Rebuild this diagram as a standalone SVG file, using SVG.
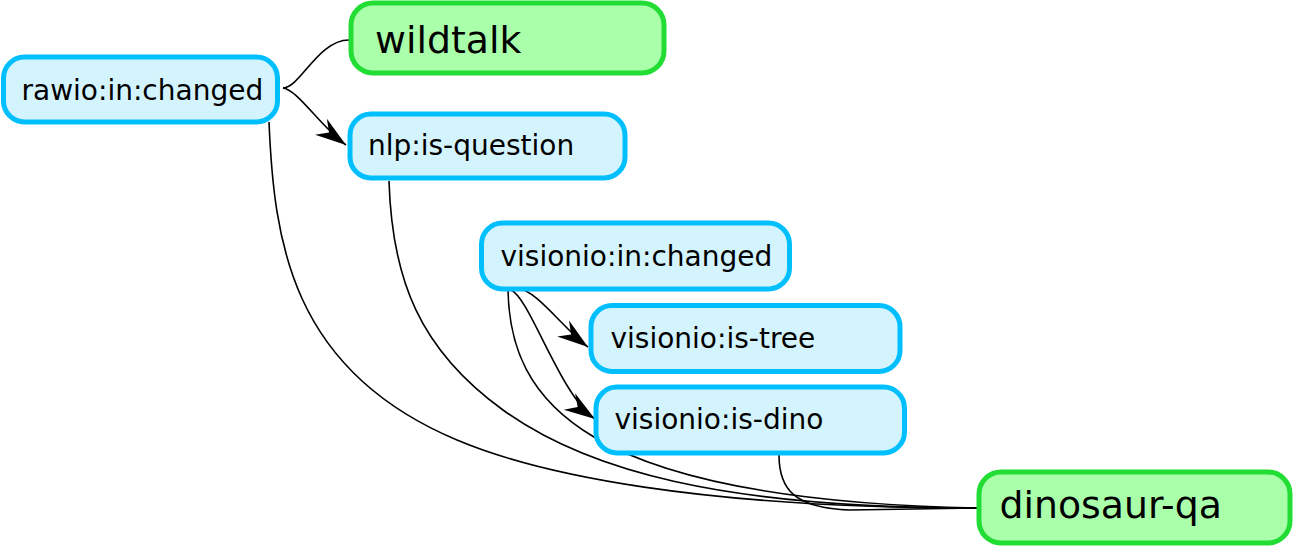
<svg xmlns="http://www.w3.org/2000/svg" width="1294" height="546" viewBox="0 0 1294 546">
<style>
.blue rect{fill:#d4f4fd;stroke:#00bfff;stroke-width:5}
.green rect{fill:#aaffaa;stroke:#22dd33;stroke-width:5}
.blue text{font-family:"DejaVu Sans","Liberation Sans",sans-serif;font-size:28px;fill:#000}
.green text{font-family:"DejaVu Sans","Liberation Sans",sans-serif;font-size:37.8px;fill:#000}
#edges path{fill:none;stroke:#000;stroke-width:1.6}
</style>
<defs>
<marker id="arrow" markerUnits="userSpaceOnUse" orient="auto" viewBox="-32 -11 33 22" refX="0" refY="0" markerWidth="33" markerHeight="22">
<path d="M0,0 L-31,-10 L-21,0 L-31,10 Z" fill="#000"/>
</marker>
</defs>
<g id="edges">
<path d="M283,88 C300,88 318,40 349,40"/>
<path d="M283,88 C298,90 320,126 346,145" marker-end="url(#arrow)"/>
<path d="M269,122 C274,240 290,370 457,440 C540,475 700,508 977,508"/>
<path d="M389,181 C392,280 420,350 503,410 C586,470 720,508 977,508"/>
<path d="M508,290 C510,400 580,500 977,508"/>
<path d="M519,289 C535,289 565,330 588,347" marker-end="url(#arrow)"/>
<path d="M511,290 C530,298 560,395 595,419" marker-end="url(#arrow)"/>
<path d="M779,455 C779,490 795,508 850,510 L977,508"/>
</g>
<g id="rawio-in-changed" class="blue">
<rect x="3.5" y="57" width="274" height="65" rx="21"/>
<text x="21.5" y="99.5">rawio:in:changed</text>
</g>
<g id="wildtalk" class="green">
<rect x="351" y="3" width="313" height="70" rx="22"/>
<text x="375" y="53.3">wildtalk</text>
</g>
<g id="nlp-is-question" class="blue">
<rect x="350" y="114" width="275" height="64" rx="21"/>
<text x="368" y="155.3">nlp:is-question</text>
</g>
<g id="visionio-in-changed" class="blue">
<rect x="481.5" y="223" width="308" height="66" rx="21"/>
<text x="500.5" y="265.9">visionio:in:changed</text>
</g>
<g id="visionio-is-tree" class="blue">
<rect x="591" y="305.5" width="309" height="66" rx="21"/>
<text x="610.5" y="347.5">visionio:is-tree</text>
</g>
<g id="visionio-is-dino" class="blue">
<rect x="596" y="387" width="308.5" height="66" rx="21"/>
<text x="614.5" y="428.5">visionio:is-dino</text>
</g>
<g id="dinosaur-qa" class="green">
<rect x="979" y="472" width="311" height="71" rx="22"/>
<text x="999.5" y="518.3">dinosaur-qa</text>
</g>
</svg>
